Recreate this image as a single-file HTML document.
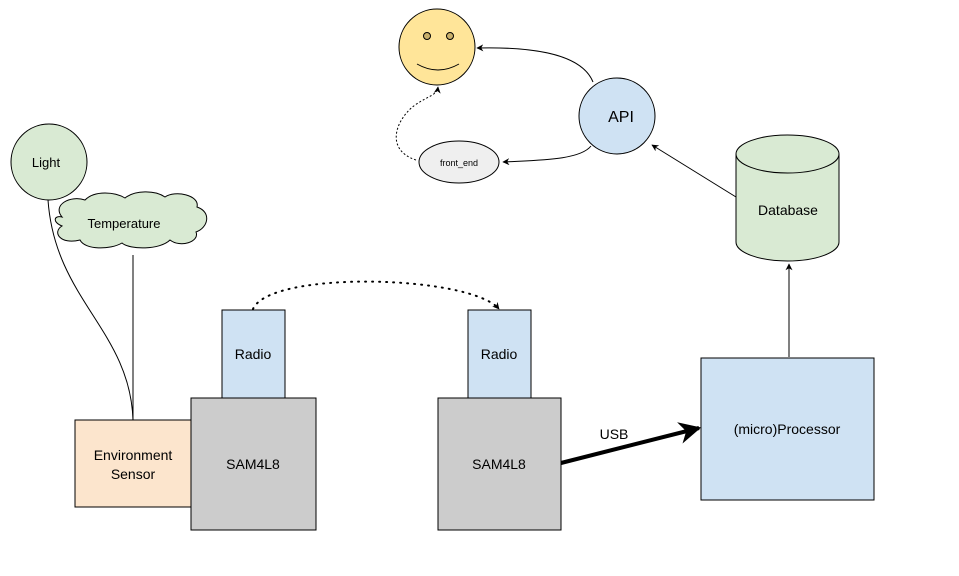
<!DOCTYPE html>
<html><head><meta charset="utf-8"><style>html,body{margin:0;padding:0;background:#fff}svg{display:block}text{font-family:"Liberation Sans",Arial,sans-serif;fill:#000}</style></head>
<body>
<svg width="959" height="576" viewBox="0 0 959 576" xmlns="http://www.w3.org/2000/svg">
<defs>
<marker id="a" viewBox="0 0 10 10" refX="9" refY="5" markerWidth="7" markerHeight="7" orient="auto" markerUnits="userSpaceOnUse"><path d="M0,0 L10,5 L0,10 L3,5z" fill="#000"/></marker>
<marker id="b" viewBox="0 0 10 10" refX="9" refY="5" markerWidth="22" markerHeight="22" orient="auto" markerUnits="userSpaceOnUse"><path d="M0,0 L10,5 L0,10 L3,5z" fill="#000"/></marker>
</defs>
<!-- connectors -->
<path d="M48,200 C55,300 130,330 133,420" fill="none" stroke="#000" stroke-width="1"/>
<path d="M133,255 L133,420" fill="none" stroke="#000" stroke-width="1"/>
<path d="M253,309 C270,270 470,275 499,309" fill="none" stroke="#000" stroke-width="2" stroke-dasharray="1,6" stroke-linecap="round" marker-end="url(#a)"/>
<path d="M561,463 L699,428" fill="none" stroke="#000" stroke-width="4" marker-end="url(#b)"/>
<path d="M789,357 L789,264" fill="none" stroke="#000" stroke-width="1" marker-end="url(#a)"/>
<path d="M736,197 L652,145" fill="none" stroke="#000" stroke-width="1" marker-end="url(#a)"/>
<path d="M593,82 C580,50 520,47 477,48" fill="none" stroke="#000" stroke-width="1" marker-end="url(#a)"/>
<path d="M591,146 C580,160 540,160 503,162" fill="none" stroke="#000" stroke-width="1" marker-end="url(#a)"/>
<path d="M416,160 C385,150 395,120 415,105 C430,95 437,95 438,87" fill="none" stroke="#000" stroke-width="1" stroke-dasharray="2,2" marker-end="url(#a)"/>
<!-- Light -->
<circle cx="49" cy="162" r="38" fill="#d9ead3" stroke="#000"/>
<text x="46" y="167" font-size="13" text-anchor="middle">Light</text>
<!-- cloud -->
<path d="M62,217 C52,205 70,195 85,200 C95,190 115,192 125,198 C135,190 155,190 165,197 C175,190 200,195 197,207 C212,212 208,228 196,232 C200,242 180,248 170,240 C160,250 130,250 122,243 C110,250 85,250 80,240 C60,245 52,232 62,226 C52,222 54,215 62,217 Z" fill="#d9ead3" stroke="#000"/>
<text x="124" y="228" font-size="13" text-anchor="middle">Temperature</text>
<!-- env sensor -->
<rect x="75" y="420" width="116" height="87" fill="#fce5cd" stroke="#000"/>
<text x="133" y="460" font-size="14" text-anchor="middle">Environment</text>
<text x="133" y="479" font-size="14" text-anchor="middle">Sensor</text>
<!-- left radio + sam -->
<rect x="222" y="310" width="63" height="88" fill="#cfe2f3" stroke="#000"/>
<text x="253" y="359" font-size="14" text-anchor="middle">Radio</text>
<rect x="191" y="398" width="125" height="132" fill="#cccccc" stroke="#000"/>
<text x="253" y="469" font-size="14" text-anchor="middle">SAM4L8</text>
<!-- right radio + sam -->
<rect x="468" y="310" width="63" height="88" fill="#cfe2f3" stroke="#000"/>
<text x="499" y="359" font-size="14" text-anchor="middle">Radio</text>
<rect x="438" y="398" width="123" height="132" fill="#cccccc" stroke="#000"/>
<text x="499" y="469" font-size="14" text-anchor="middle">SAM4L8</text>
<text x="614" y="439" font-size="14" text-anchor="middle">USB</text>
<!-- processor -->
<rect x="701" y="358" width="173" height="142" fill="#cfe2f3" stroke="#000"/>
<text x="787" y="434" font-size="14" text-anchor="middle">(micro)Processor</text>
<!-- database -->
<path d="M736,154 L736,242 A51.5,19 0 0 0 839,242 L839,154" fill="#d9ead3" stroke="#000"/>
<ellipse cx="787.5" cy="154" rx="51.5" ry="19" fill="#d9ead3" stroke="#000"/>
<text x="788" y="215" font-size="14" text-anchor="middle">Database</text>
<!-- API -->
<circle cx="617" cy="116" r="38" fill="#cfe2f3" stroke="#000"/>
<text x="621" y="122" font-size="16" text-anchor="middle">API</text>
<!-- front_end -->
<ellipse cx="459" cy="162" rx="40" ry="21" fill="#efefef" stroke="#000"/>
<text x="459" y="166" font-size="9" text-anchor="middle">front_end</text>
<!-- smiley -->
<circle cx="437" cy="47" r="38" fill="#ffe599" stroke="#000"/>
<circle cx="427" cy="36" r="3.5" fill="#c9b06b" stroke="#000"/>
<circle cx="450" cy="36" r="3.5" fill="#c9b06b" stroke="#000"/>
<path d="M417,64 Q438,76 459,64" fill="none" stroke="#000"/>
</svg>
</body></html>
